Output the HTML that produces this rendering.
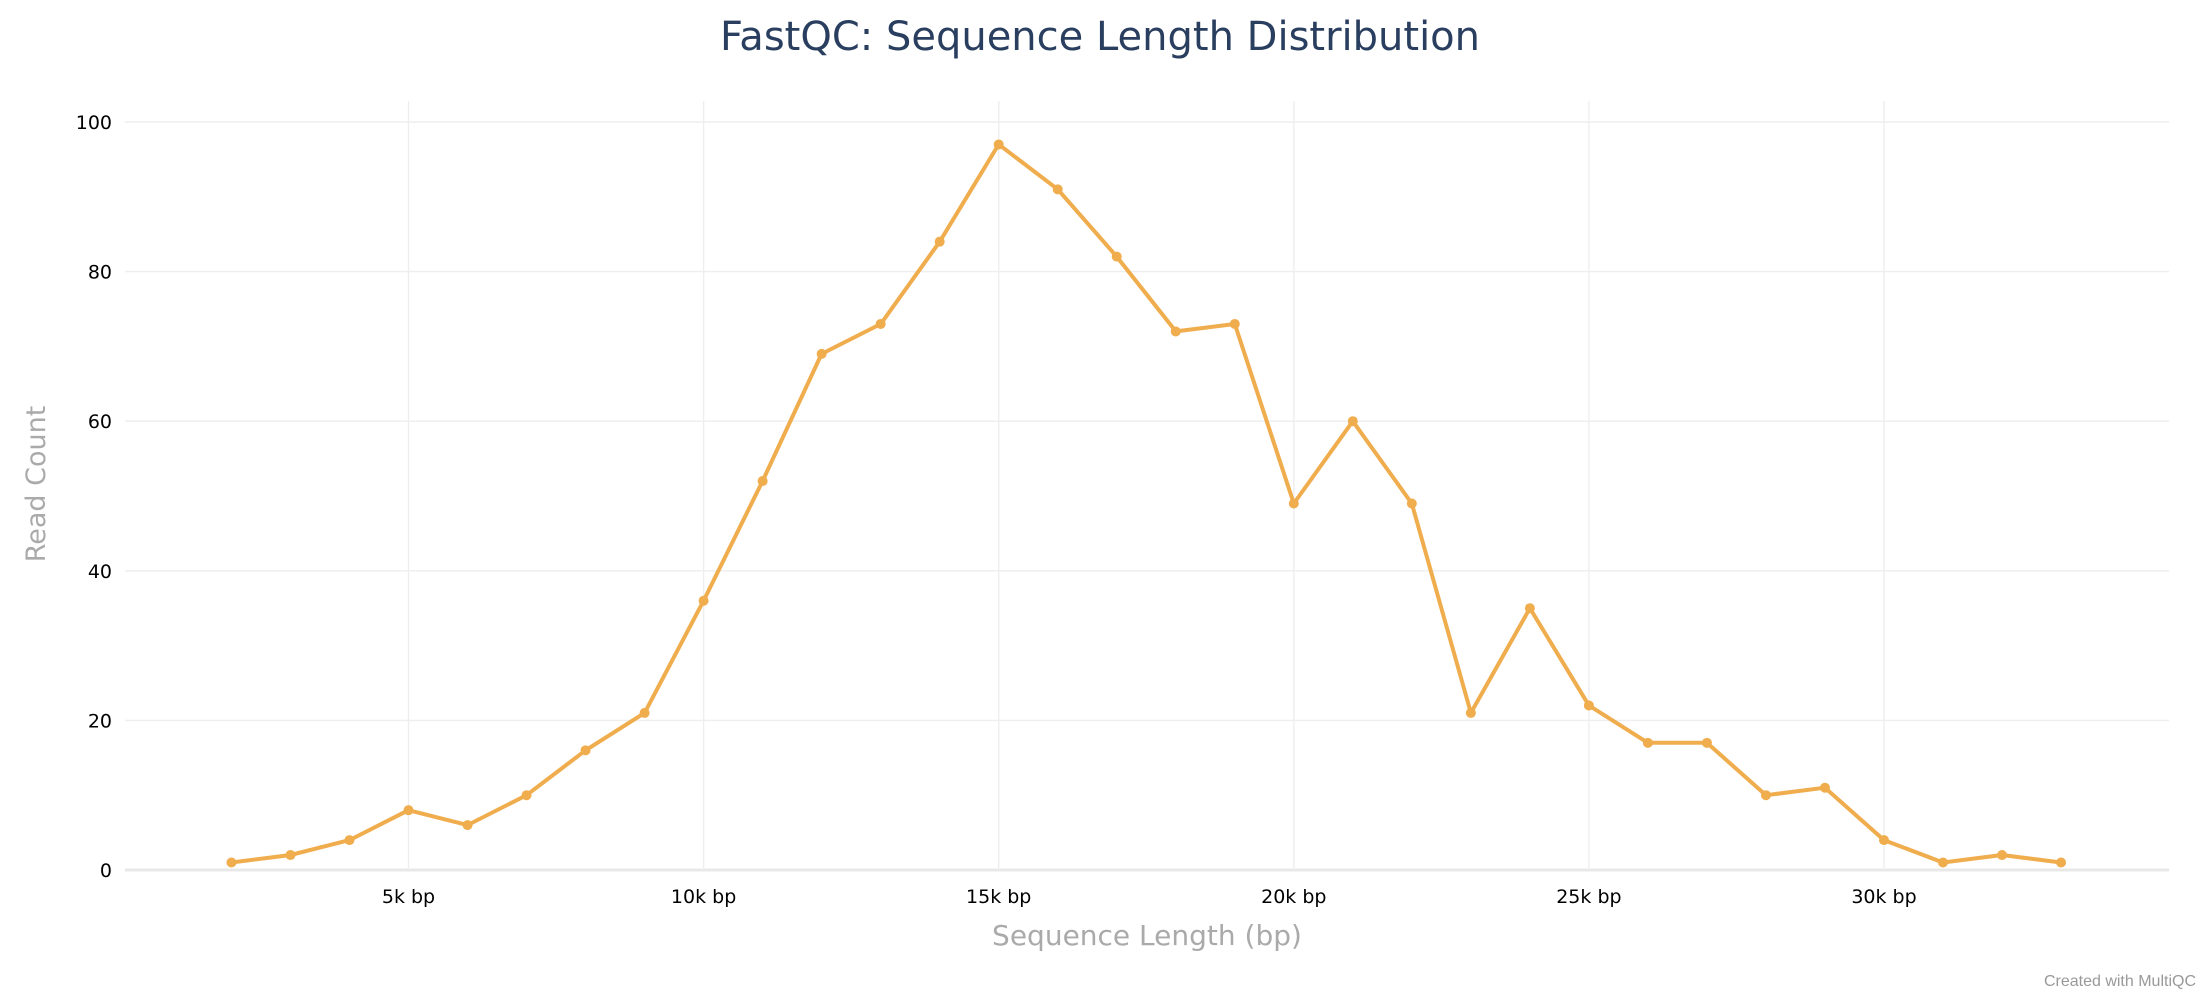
<!DOCTYPE html>
<html><head><meta charset="utf-8"><style>
html,body{margin:0;padding:0;background:#fff;}
svg{display:block;font-family:"DejaVu Sans","Liberation Sans",sans-serif;}
</style></head><body>
<svg id="chart" width="2200" height="1000" viewBox="0 0 2200 1000">
<text x="1100" y="50" text-anchor="middle" font-size="40" fill="#2a3f5f">FastQC: Sequence Length Distribution</text>
<g id="grid"></g>
<g id="axes"></g>
<g id="series"></g>
<text x="1147" y="945" text-anchor="middle" font-size="28" fill="#aaaaaa">Sequence Length (bp)</text>
<text transform="translate(45,484) rotate(-90)" text-anchor="middle" font-size="27" fill="#aaaaaa">Read Count</text>
<text x="2196" y="986" text-anchor="end" font-size="16" fill="#999" font-family="Liberation Sans, sans-serif">Created with MultiQC</text>
</svg>
<script>
const lengthsK = [2,3,4,5,6,7,8,9,10,11,12,13,14,15,16,17,18,19,20,21,22,23,24,25,26,27,28,29,30,31,32,33];
const readCounts = [1,2,4,8,6,10,16,21,36,52,69,73,84,97,91,82,72,73,49,60,49,21,35,22,17,17,10,11,4,1,2,1];
const xTicksK = [5,10,15,20,25,30];
const yTicks = [0,20,40,60,80,100];

const NS = "http://www.w3.org/2000/svg";
const plotLeft = 125, plotRight = 2169, plotTop = 101, plotBottom = 870;
function xScale(k){ return 113.4 + k * 59.02; }
function yScale(v){ return 870 - v * 7.48; }
function mk(tag, attrs, parent){
  const e = document.createElementNS(NS, tag);
  for (const k in attrs) e.setAttribute(k, attrs[k]);
  parent.appendChild(e);
  return e;
}
const grid = document.getElementById('grid');
const axes = document.getElementById('axes');
const series = document.getElementById('series');

yTicks.forEach(v => {
  const y = yScale(v);
  const l = mk('line', {x1:plotLeft, x2:plotRight, y1:y, y2:y, stroke: v===0 ? '#e8e8e8' : '#eeeeee', 'stroke-width': v===0 ? 3 : 1.4}, grid);
  
  
  const t = mk('text', {x:112, y:y+7, 'text-anchor':'end', 'font-size':19, fill:'#000'}, axes);
  t.textContent = String(v);
  
  
});
xTicksK.forEach(k => {
  const x = xScale(k);
  const l = mk('line', {x1:x, x2:x, y1:plotTop, y2:plotBottom, stroke:'#eeeeee', 'stroke-width':1.4}, grid);
  
  
  const t = mk('text', {x:x, y:903, 'text-anchor':'middle', 'font-size':19, fill:'#000'}, axes);
  t.textContent = k + 'k bp';
  
  
});
const pts = lengthsK.map((k,i) => xScale(k).toFixed(1) + ',' + yScale(readCounts[i]).toFixed(1)).join(' ');
const line = mk('polyline', {points:pts, fill:'none', stroke:'#f0ad4e', 'stroke-width':4, 'stroke-linejoin':'round'}, series);


lengthsK.forEach((k,i) => {
  const c = mk('circle', {cx:xScale(k), cy:yScale(readCounts[i]), r:5, fill:'#f0ad4e'}, series);
  
  
});
</script>
</body></html>
